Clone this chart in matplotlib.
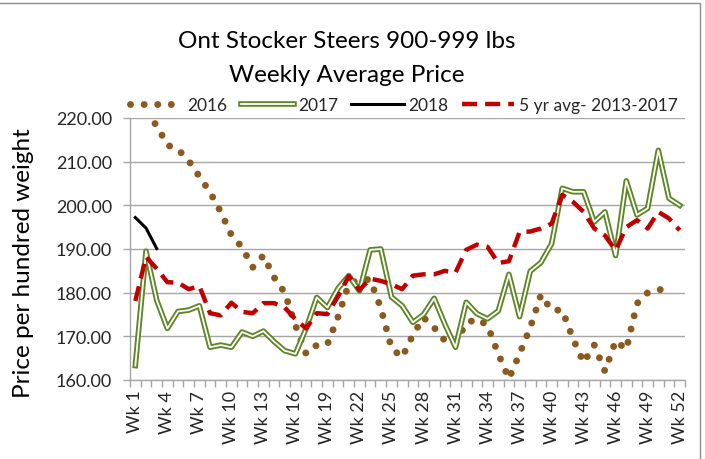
import numpy as np
import matplotlib
matplotlib.use("Agg")
import matplotlib.pyplot as plt
from matplotlib import patheffects as pe
from matplotlib.patches import Rectangle
from matplotlib.ticker import FixedLocator, FormatStrFormatter

plt.rcParams['font.family'] = ['Lato', 'DejaVu Sans']

weeks = list(range(1, 53))
week_labels = [f"Wk {w}" if (w - 1) % 3 == 0 else "" for w in weeks]

y2016 = [223.0, 221.0, 218.3, 213.8, 212.8, 210.2, 206.6, 203.0, 198.5, 193.2,
         190.4, 185.8, 188.5, 183.5, 180.0, 172.5, 166.0, 168.0, 168.2, 174.5,
         182.0, 183.0, 183.0, 176.5, 167.3, 165.2, 170.3, 174.3, 172.0, 169.0,
         168.5, 173.0, 174.0, 172.5, 166.0, 160.3, 166.0, 172.0, 179.5, 176.0,
         176.0, 169.5, 164.0, 168.0, 162.0, 169.0, 167.0, 177.5, 180.0, 180.7,
         180.7, np.nan]
y2017 = [163.3, 189.5, 178.3, 171.8, 175.7, 176.0, 177.0, 167.5, 168.0, 167.5,
         171.0, 170.0, 171.2, 168.8, 166.7, 166.0, 171.8, 178.9, 176.6, 181.0,
         183.9, 180.4, 189.8, 190.0, 179.0, 177.0, 173.2, 175.0, 178.7, 172.8,
         167.5, 177.8, 175.2, 174.0, 175.8, 184.2, 174.5, 184.9, 186.9, 191.2,
         203.9, 203.1, 203.1, 196.2, 198.5, 188.5, 205.6, 197.8, 199.3, 212.6,
         201.6, 200.0]
y2018 = [197.2, 194.8, 190.1] + [np.nan] * 49
avg5 = [178.1, 188.2, 185.5, 182.4, 182.3, 180.8, 181.5, 175.3, 174.8, 177.7,
        175.6, 175.3, 177.6, 177.6, 176.6, 173.9, 171.8, 175.3, 175.1, 179.2,
        183.8, 180.6, 183.2, 182.7, 181.9, 180.8, 183.9, 184.2, 184.2, 185.0,
        184.6, 189.8, 191.0, 190.5, 186.8, 187.2, 193.9, 194.0, 194.7, 195.8,
        202.4, 200.8, 198.5, 194.7, 193.1, 189.7, 195.0, 196.6, 194.7, 198.5,
        197.0, 194.3]

c2016 = '#8C5A1E'
c2017 = '#5E8526'
c2018 = '#000000'
cavg = '#C00000'

W, H = 705, 460
fig = plt.figure(figsize=(W / 100, H / 100), dpi=100)
ax = fig.add_axes([130 / W, 1 - 381 / H, 555 / W, 262 / H])

x = np.array(weeks)
ax.plot(x, y2016, color=c2016, lw=5.0, linestyle=(0, (0.01, 1.95)),
        dash_capstyle='round', label='2016', zorder=3)
ax.plot(x, y2017, color='white', lw=1.3, label='2017', zorder=4,
        path_effects=[pe.Stroke(linewidth=4.0, foreground=c2017), pe.Normal()])
ax.plot(x, y2018, color=c2018, lw=2.2, label='2018', zorder=5)
ax.plot(x, avg5, color=cavg, lw=3.2, linestyle=(0, (3.4, 1.8)),
        label='5 yr avg- 2013-2017', zorder=4)

ax.set_xlim(0.5, 52.5)
ax.set_ylim(160, 220)
ax.set_yticks(np.arange(160, 221, 10))
ax.yaxis.set_major_formatter(FormatStrFormatter('%.2f'))
ax.grid(axis='y', color='#A6A6A6', lw=1.0)
ax.set_axisbelow(True)

ax.set_xticks(x)
ax.set_xticklabels(week_labels, rotation=90, fontsize=13, color='#262626')
ax.xaxis.set_minor_locator(FixedLocator(np.arange(0.5, 53, 1)))
ax.tick_params(axis='x', which='major', length=0, pad=7)
ax.tick_params(axis='x', which='minor', length=5, color='#A6A6A6', width=1)
ax.tick_params(axis='y', length=5, color='#A6A6A6', width=1, labelsize=13,
               labelcolor='#262626', pad=8)
for s in ['top', 'right']:
    ax.spines[s].set_visible(False)
for s in ['left', 'bottom']:
    ax.spines[s].set_color('#A6A6A6')
    ax.spines[s].set_linewidth(1)

fig.text(24 / W, 1 - 263 / H, 'Price per hundred weight', rotation=90,
         ha='center', va='center', fontsize=17.5, color='#000000')

fig.text(347 / W, 1 - 42 / H, 'Ont Stocker Steers 900-999 lbs', ha='center',
         va='center', fontsize=17.5, color='#000000')
fig.text(347 / W, 1 - 75 / H, 'Weekly Average Price', ha='center',
         va='center', fontsize=17.5, color='#000000')

leg = fig.legend(loc='center', bbox_to_anchor=(404 / W, 1 - 106 / H), ncol=4,
                 frameon=False, fontsize=12.5, handlelength=3.05,
                 columnspacing=0.75, handletextpad=0.25, borderaxespad=0)
for t in leg.get_texts():
    t.set_color('#262626')

fig.add_artist(Rectangle((-0.01, -0.01), 700 / W + 0.01, 1 - 4 / H + 0.01,
                         transform=fig.transFigure, fill=False,
                         ec='#8C8C8C', lw=1.0))

fig.savefig('out.png', dpi=100)
